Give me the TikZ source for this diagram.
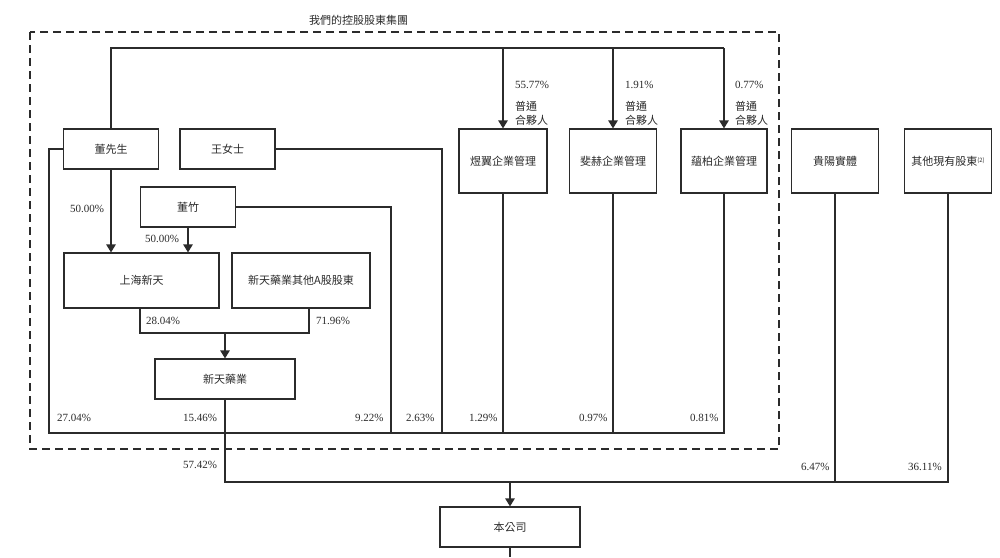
\documentclass[tikz,border=0pt]{standalone}
\usepackage{fontspec}
\setmainfont{Liberation Serif}
\newfontfamily\cjk{Noto Sans CJK TC}
\usetikzlibrary{arrows.meta}
\definecolor{ink}{HTML}{2B2B2B}
\begin{document}
\begin{tikzpicture}[x=1pt,y=-1pt,
  box/.style={draw=ink, line width=1.2pt, inner sep=0pt, text=ink, font=\cjk\fontsize{11}{13}\selectfont, align=center},
  ln/.style={draw=ink, line width=1.2pt},
  arr/.style={draw=ink, line width=1.2pt, -{Triangle[width=9.5pt,length=8pt]}},
  pct/.style={font=\fontsize{11}{13}\selectfont, text=ink, inner sep=0pt, anchor=west},
  cjklbl/.style={font=\cjk\fontsize{11}{14}\selectfont, text=ink, inner sep=0pt, anchor=west, align=left},
]
\useasboundingbox (0,0) rectangle (1000,557);
\fill[white] (0,0) rectangle (1000,557);

% group frame and title
\draw[draw=ink, line width=1.2pt, dash pattern=on 8pt off 5pt] (30,32) rectangle (779,449);
\node[font=\cjk\fontsize{11}{13}\selectfont, text=ink, inner sep=0pt] (title) at (358.5,20) {我們的控股股東集團};

% boxes
\node[box, minimum width=95pt, minimum height=40pt] (dong) at (111,149) {董先生};
\node[box, minimum width=95pt, minimum height=40pt] (wang) at (227.5,149) {王女士};
\node[box, minimum width=88pt, minimum height=64pt] (yuyi) at (503,161) {煜翼企業管理};
\node[box, minimum width=87pt, minimum height=64pt] (feihe) at (613,161) {斐赫企業管理};
\node[box, minimum width=86pt, minimum height=64pt] (yunbo) at (724,161) {蘊柏企業管理};
\node[box, minimum width=87pt, minimum height=64pt] (guiyang) at (835,161) {貴陽實體};
\node[box, minimum width=87pt, minimum height=64pt] (others) at (948,161) {其他現有股東\raisebox{0.5ex}{\fontsize{6}{7}\selectfont(2)}};
\node[box, minimum width=95pt, minimum height=40pt] (zhu) at (188,207) {董竹};
\node[box, minimum width=155pt, minimum height=55pt] (shanghai) at (141.5,280.5) {上海新天};
\node[box, minimum width=138pt, minimum height=55pt] (othera) at (301,280.5) {新天藥業其他A股股東};
\node[box, minimum width=140pt, minimum height=40pt] (xtyy) at (225,379) {新天藥業};
\node[box, minimum width=140pt, minimum height=40pt] (bgs) at (510,527) {本公司};

% helper coordinates
\coordinate (topy) at (0,48);
\coordinate (lx) at (49,433);
\coordinate (wx) at (442,433);
\coordinate (zx) at (391,433);
\coordinate (by) at (0,482);
\coordinate (oa) at (309,308);
\coordinate (cy) at (0,333);
\coordinate (bend) at (510,557);

% top distribution line with arrows to partnerships
\draw[ln] (dong.north) |- (yunbo.north |- topy);
\draw[arr] (yuyi.north |- topy) -- (yuyi.north);
\draw[arr] (feihe.north |- topy) -- (feihe.north);
\draw[arr] (yunbo.north |- topy) -- (yunbo.north);

% bottom collecting line inside group
\draw[ln] (dong.west) -| (lx) -- (yunbo.south |- lx) -- (yunbo.south);
\draw[ln] (wang.east) -| (wx);
\draw[ln] (zhu.east) -| (zx);
\draw[ln] (yuyi.south) -- (yuyi.south |- lx);
\draw[ln] (feihe.south) -- (feihe.south |- lx);

% into Shanghai Xintian
\draw[arr] (dong.south) -- (dong.south |- shanghai.north);
\draw[arr] (zhu.south) -- (zhu.south |- shanghai.north);

% into Xintian Pharma
\draw[ln] ([xshift=-1.5pt]shanghai.south) |- (oa |- cy) -- (oa);
\draw[arr] (xtyy.north |- cy) -- (xtyy.north);

% into the company
\draw[ln] (xtyy.south) |- (others.south |- by) -- (others.south);
\draw[ln] (guiyang.south) -- (guiyang.south |- by);
\draw[arr] (bgs.north |- by) -- (bgs.north);
\draw[ln] (bgs.south) -- (bend);

% percentages
\node[pct] (p5577) at (515,85) {55.77\%};
\node[cjklbl] (gp1) at (515,113) {普通\\合夥人};
\node[pct] (p191) at (625,85) {1.91\%};
\node[cjklbl] (gp2) at (625,113) {普通\\合夥人};
\node[pct] (p077) at (735,85) {0.77\%};
\node[cjklbl] (gp3) at (735,113) {普通\\合夥人};
\node[pct] (p50a) at (70,209) {50.00\%};
\node[pct] (p50b) at (145,239) {50.00\%};
\node[pct] (p2804) at (146,321) {28.04\%};
\node[pct] (p7196) at (316,321) {71.96\%};
\node[pct] (p2704) at (57,418) {27.04\%};
\node[pct] (p1546) at (183,418) {15.46\%};
\node[pct] (p922) at (355,418) {9.22\%};
\node[pct] (p263) at (406,418) {2.63\%};
\node[pct] (p129) at (469,418) {1.29\%};
\node[pct] (p097) at (579,418) {0.97\%};
\node[pct] (p081) at (690,418) {0.81\%};
\node[pct] (p5742) at (183,465) {57.42\%};
\node[pct] (p647) at (801,467) {6.47\%};
\node[pct] (p3611) at (908,467) {36.11\%};
\end{tikzpicture}
\end{document}
